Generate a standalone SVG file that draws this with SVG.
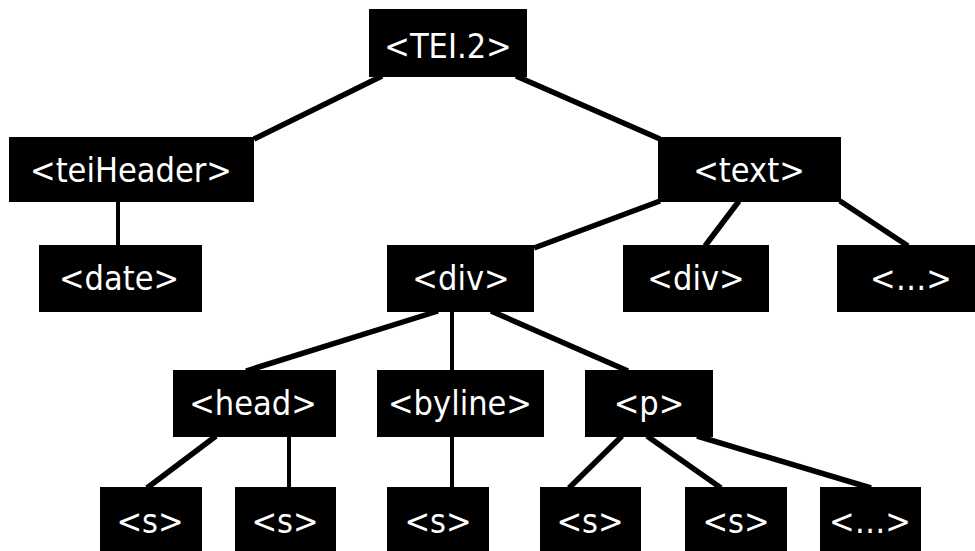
<svg xmlns="http://www.w3.org/2000/svg" width="975" height="551" viewBox="0 0 975 551">
<style>
.box{fill:#000;}
.lbl{fill:#fff;font-family:"DejaVu Sans Condensed","DejaVu Sans",sans-serif;font-size:34px;text-anchor:middle;}
.edge{stroke:#000;stroke-width:5.5;fill:none;stroke-linecap:butt;}
.vedge{stroke:#000;stroke-width:4;fill:none;}
</style>
<rect width="975" height="551" fill="#fff"/>
<g id="connectors">
<line class="edge" x1="382" y1="76" x2="254" y2="139"/>
<line class="edge" x1="516" y1="76" x2="660" y2="139"/>
<line class="vedge" x1="118" y1="201" x2="118" y2="246"/>
<line class="edge" x1="660" y1="201" x2="534" y2="248"/>
<line class="edge" x1="739" y1="201" x2="705" y2="246"/>
<line class="edge" x1="840" y1="201" x2="908" y2="246"/>
<line class="edge" x1="438" y1="311" x2="246" y2="371"/>
<line class="vedge" x1="452" y1="311" x2="452" y2="371"/>
<line class="edge" x1="491" y1="311" x2="628" y2="371"/>
<line class="edge" x1="216" y1="436" x2="147" y2="488"/>
<line class="vedge" x1="289" y1="436" x2="289" y2="488"/>
<line class="vedge" x1="452" y1="436" x2="452" y2="488"/>
<line class="edge" x1="622" y1="436" x2="569" y2="488"/>
<line class="edge" x1="647" y1="436" x2="721" y2="488"/>
<line class="edge" x1="697" y1="436" x2="871" y2="488"/>
</g>
<g id="n-tei"><rect class="box" x="369" y="9" width="158" height="68"/><text class="lbl" x="448" y="58">&lt;TEI.2&gt;</text></g>
<g id="n-teiheader"><rect class="box" x="9" y="137" width="245" height="65"/><text class="lbl" x="131" y="182">&lt;teiHeader&gt;</text></g>
<g id="n-text"><rect class="box" x="658" y="137" width="183" height="65"/><text class="lbl" x="749" y="182">&lt;text&gt;</text></g>
<g id="n-date"><rect class="box" x="39" y="245" width="163" height="67"/><text class="lbl" x="119" y="290">&lt;date&gt;</text></g>
<g id="n-div1"><rect class="box" x="387" y="245" width="147" height="67"/><text class="lbl" x="461" y="290">&lt;div&gt;</text></g>
<g id="n-div2"><rect class="box" x="623" y="245" width="146" height="67"/><text class="lbl" x="696" y="290">&lt;div&gt;</text></g>
<g id="n-more1"><rect class="box" x="837" y="245" width="138" height="67"/><text class="lbl" x="911" y="290">&lt;…&gt;</text></g>
<g id="n-head"><rect class="box" x="173" y="370" width="163" height="67"/><text class="lbl" x="253" y="415">&lt;head&gt;</text></g>
<g id="n-byline"><rect class="box" x="377" y="370" width="167" height="67"/><text class="lbl" x="460" y="415">&lt;byline&gt;</text></g>
<g id="n-p"><rect class="box" x="585" y="370" width="128" height="67"/><text class="lbl" x="649" y="415">&lt;p&gt;</text></g>
<g id="n-s1"><rect class="box" x="100" y="487" width="102" height="64"/><text class="lbl" x="150" y="533">&lt;s&gt;</text></g>
<g id="n-s2"><rect class="box" x="235" y="487" width="101" height="64"/><text class="lbl" x="285" y="533">&lt;s&gt;</text></g>
<g id="n-s3"><rect class="box" x="387" y="487" width="102" height="64"/><text class="lbl" x="438" y="533">&lt;s&gt;</text></g>
<g id="n-s4"><rect class="box" x="540" y="487" width="101" height="64"/><text class="lbl" x="590" y="533">&lt;s&gt;</text></g>
<g id="n-s5"><rect class="box" x="685" y="487" width="102" height="64"/><text class="lbl" x="736" y="533">&lt;s&gt;</text></g>
<g id="n-more2"><rect class="box" x="820" y="487" width="101" height="64"/><text class="lbl" x="870" y="533">&lt;…&gt;</text></g>
</svg>
